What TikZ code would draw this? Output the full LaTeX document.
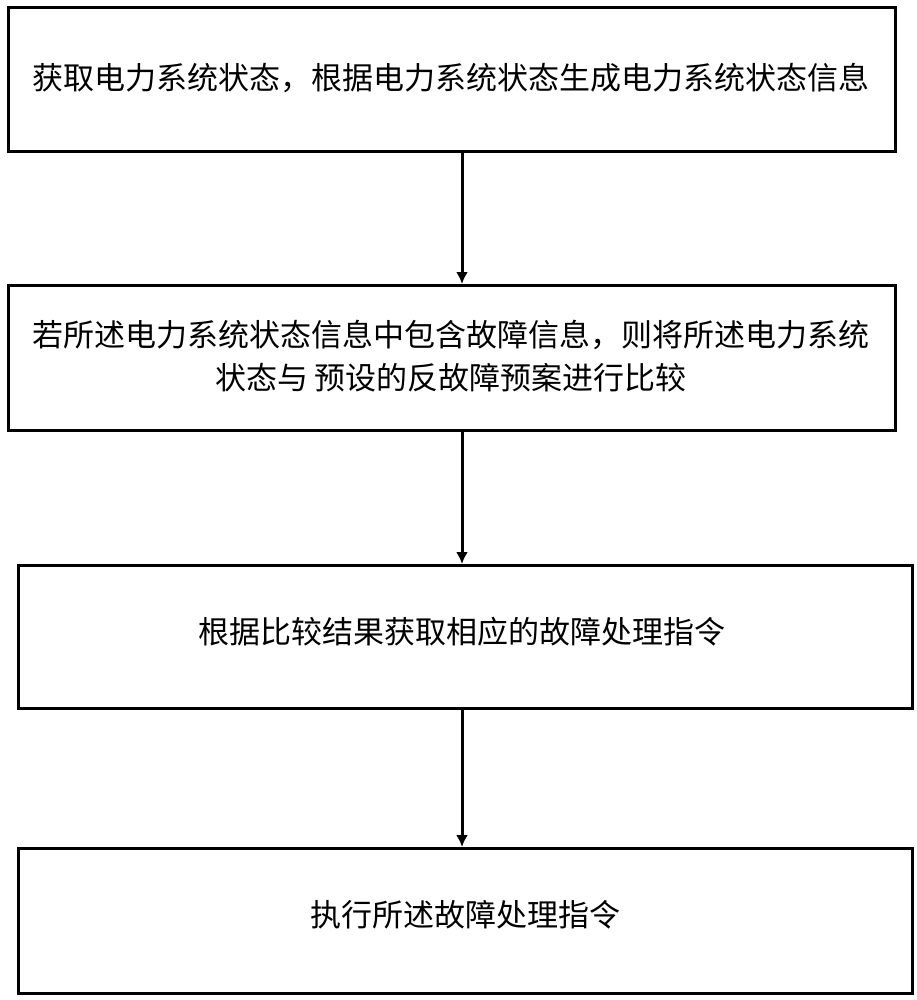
\documentclass[tikz,border=0pt]{standalone}
\usepackage{fontspec}
\newfontfamily\cjk{Noto Sans CJK SC}
\begin{document}
\begin{tikzpicture}[x=1pt,y=-1pt,
  box/.style={draw,line width=3pt,inner sep=0pt},
  arr/.style={line width=3pt,-{Latex[length=12pt,width=12pt]}},
  txt/.style={font=\cjk\fontsize{31}{43}\selectfont,align=center}]
\usetikzlibrary{arrows.meta}
\useasboundingbox (0,0) rectangle (917,1000);
\node[box,minimum width=887pt,minimum height=144pt] (b1) at (451.5,80) {};
\node[box,minimum width=887pt,minimum height=145pt] (b2) at (451.5,357.5) {};
\node[box,minimum width=894pt,minimum height=143pt] (b3) at (465,636.5) {};
\node[box,minimum width=894pt,minimum height=145pt] (b4) at (465,920.5) {};
\node[txt] (t1) at (451,78) {获取电力系统状态，根据电力系统状态生成电力系统状态信息};
\node[txt] (t2) at (451,356) {若所述电力系统状态信息中包含故障信息，则将所述电力系统\\状态与 预设的反故障预案进行比较};
\node[txt] (t3) at (462,632) {根据比较结果获取相应的故障处理指令};
\node[txt] (t4) at (465,915) {执行所述故障处理指令};
\draw[arr] (462,152) -- (462,284);
\draw[arr] (462,430) -- (462,564);
\draw[arr] (462,708) -- (462,847);
\end{tikzpicture}
\end{document}
